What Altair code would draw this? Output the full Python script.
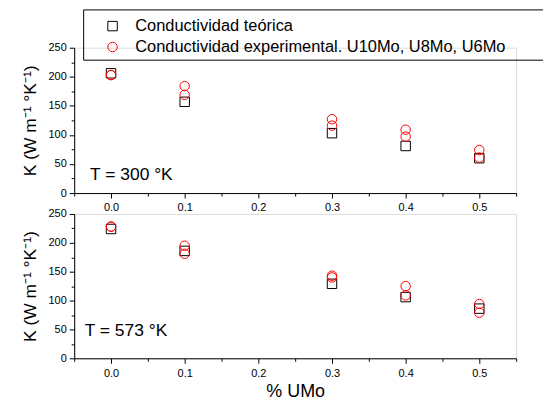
import altair as alt
import pandas as pd

pct = [0.0, 0.1, 0.3, 0.4, 0.5]
teo_300 = [206, 157, 103, 81, 60]
exp_300_a = [203, 184, 127, 109, 74]
exp_300_b = [203, 169, 116, 97, 61]
teo_573 = [224, 186, 129, 106, 86]
exp_573_a = [228, 195, 143, 125, 94]
exp_573_b = [228, 181, 140, 109, 79]

S_TEO = "Conductividad teórica"
S_EXP = "Conductividad experimental. U10Mo, U8Mo, U6Mo"


def frame(teo, ea, eb):
    rows = []
    for x, v in zip(pct, teo):
        rows.append({"x": x, "k": v, "serie": S_TEO})
    for x, v in zip(pct, ea):
        rows.append({"x": x, "k": v, "serie": S_EXP})
    for x, v in zip(pct, eb):
        rows.append({"x": x, "k": v, "serie": S_EXP})
    return pd.DataFrame(rows)


df300 = frame(teo_300, exp_300_a, exp_300_b)
df573 = frame(teo_573, exp_573_a, exp_573_b)

FONT = "Liberation Sans"
W = 444

x_vals = [round(-0.05 + 0.05 * i, 2) for i in range(13)]
x_major = "abs(datum.value*10 - round(datum.value*10)) < 0.001"
y_vals = list(range(0, 251, 25))
y_major = "datum.value % 50 === 0"


def x_axis(title):
    return alt.Axis(
        title=title if title else "",
        values=x_vals,
        labelExpr=f"{x_major} ? format(datum.value, '.1f') : ''",
        tickSize={"condition": {"test": x_major, "value": 5}, "value": 3},
        grid=False, domainColor="black", tickColor="black", labelColor="black",
        labelFontSize=11, labelFont=FONT, labelPadding=4,
        titleFont=FONT, titleFontSize=18, titleFontWeight="normal",
        titleColor="black", titlePadding=4,
    )


y_axis = alt.Axis(
    title="K (W m⁻¹ °K⁻¹)",
    values=y_vals,
    labelExpr=f"{y_major} ? datum.label : ''",
    tickSize={"condition": {"test": y_major, "value": 5}, "value": 3},
    grid=False, domainColor="black", tickColor="black", labelColor="black",
    labelFontSize=11, labelFont=FONT, labelPadding=3,
    titleFont=FONT, titleFontSize=17.5, titleFontWeight="normal",
    titleColor="black", titlePadding=9,
)

color_scale = alt.Scale(domain=[S_TEO, S_EXP], range=["black", "#ff0000"])
shape_scale = alt.Scale(domain=[S_TEO, S_EXP], range=["square", "circle"])


def panel(df, label, show_legend, x_title, label_x, label_y, h):
    legend = None
    if show_legend:
        legend = alt.Legend(
            title=None, orient="none", legendX=30.3, legendY=-30,
            labelFont=FONT, labelFontSize=16.5, labelColor="black",
            symbolSize=90, symbolStrokeWidth=1, symbolFillColor="transparent",
            labelOffset=14.5, rowPadding=4, padding=0, labelLimit=500,
        )
    pts = alt.Chart(df).mark_point(size=90, strokeWidth=1, filled=False, opacity=1).encode(
        x=alt.X("x:Q", scale=alt.Scale(domain=[-0.05, 0.55], nice=False, zero=False), axis=x_axis(x_title)),
        y=alt.Y("k:Q", scale=alt.Scale(domain=[0, 250], nice=False), axis=y_axis),
        color=alt.Color("serie:N", scale=color_scale, legend=legend),
        shape=alt.Shape("serie:N", scale=shape_scale, legend=legend),
    )
    txt = alt.Chart(pd.DataFrame({"t": [label]})).mark_text(
        font=FONT, fontSize=17.5, color="black", align="left", baseline="middle"
    ).encode(x=alt.value(label_x), y=alt.value(label_y), text="t:N")
    layers = [pts, txt]
    if show_legend:
        box = pd.DataFrame({"a": [0]})
        top = alt.Chart(box).mark_rule(color="black", strokeWidth=1).encode(
            x=alt.value(9.5), x2=alt.value(471), y=alt.value(-38))
        bot = alt.Chart(box).mark_rule(color="black", strokeWidth=1).encode(
            x=alt.value(9.5), x2=alt.value(471), y=alt.value(12.5))
        left = alt.Chart(box).mark_rule(color="black", strokeWidth=1).encode(
            x=alt.value(9.5), y=alt.value(-38), y2=alt.value(12.5))
        layers = [top, bot, left] + layers
    return alt.layer(*layers).properties(width=W, height=h)


top = panel(df300, "T = 300 °K", True, None, 16, 128, 146)
bottom = panel(df573, "T = 573 °K", False, "% UMo", 10.5, 118, 145)

chart = alt.vconcat(top, bottom, spacing=21, bounds="flush").resolve_scale(
    color="shared", shape="shared"
).properties(
    padding={"left": 12.5, "top": 0, "right": 0, "bottom": 0}
).configure_view(stroke=None).configure(background="white")

chart.save("out.html", embed_options={"renderer": "svg", "actions": False})
